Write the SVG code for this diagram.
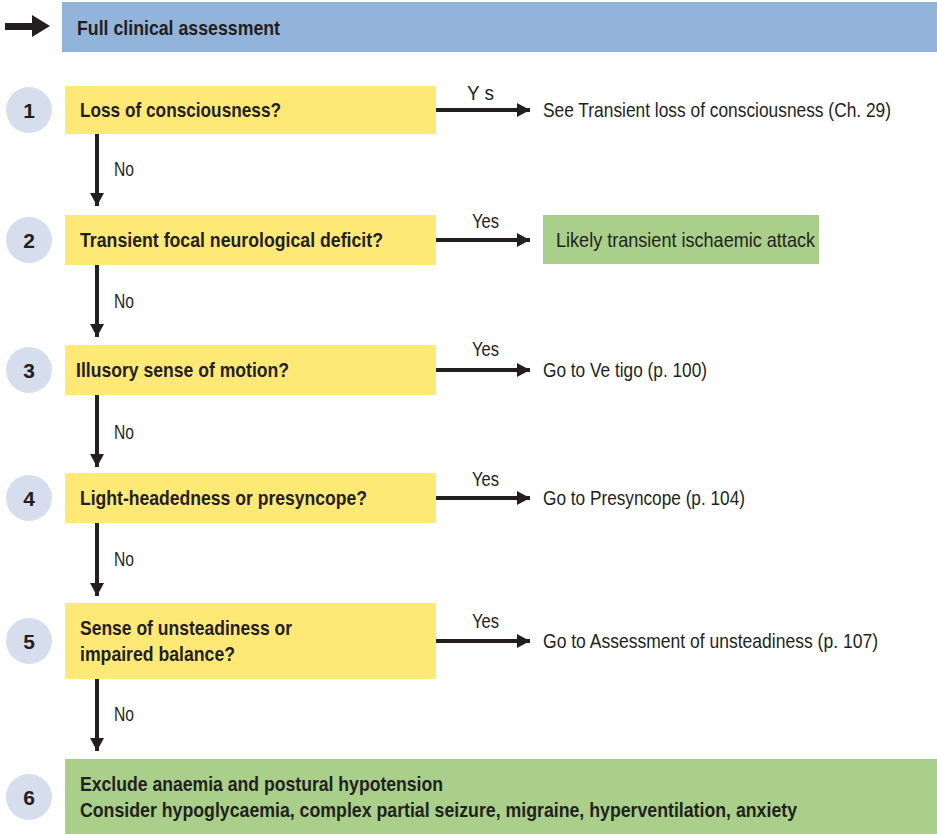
<svg xmlns="http://www.w3.org/2000/svg" width="937" height="834" viewBox="0 0 937 834">
<defs>
<style>
.b{font-family:"Liberation Sans",Arial,sans-serif;font-weight:bold;font-size:21px;fill:#231f20}
.r{font-family:"Liberation Sans",Arial,sans-serif;font-size:21px;fill:#231f20}
.n{font-family:"Liberation Sans",Arial,sans-serif;font-weight:bold;font-size:21px;fill:#231f20;text-anchor:middle}
.y{fill:#fee977}
.g{fill:#a9cf8a}
.c{fill:#d6dded}
.ln{stroke:#231f20;stroke-width:4;fill:none}
</style>
<marker id="ah" markerUnits="userSpaceOnUse" markerWidth="14" markerHeight="14" refX="13" refY="7" orient="auto">
<path d="M0,0 L13,7 L0,14 Z" fill="#231f20"/>
</marker>
</defs>
<g id="start">
<path d="M5,23 H32 V15 L50,26 L32,37 V30 H5 Z" fill="#231f20"/>
<rect x="62" y="2" width="875" height="50" fill="#92b4da"/>
<text class="b" x="77" y="35" textLength="203" lengthAdjust="spacingAndGlyphs">Full clinical assessment</text>
</g>
<g id="n1">
<circle class="c" cx="29" cy="110" r="23"/><text class="n" x="29" y="118">1</text>
<rect class="y" x="65" y="86" width="371" height="48"/>
<text class="b" x="80" y="117" textLength="201" lengthAdjust="spacingAndGlyphs">Loss of consciousness?</text>
</g>
<g id="r1"><text class="r" x="543" y="117" textLength="348" lengthAdjust="spacingAndGlyphs">See Transient loss of consciousness (Ch. 29)</text></g>
<g id="n2">
<circle class="c" cx="29" cy="240" r="23"/><text class="n" x="29" y="248">2</text>
<rect class="y" x="65" y="215" width="371" height="50"/>
<text class="b" x="80" y="247" textLength="303" lengthAdjust="spacingAndGlyphs">Transient focal neurological deficit?</text>
</g>
<g id="r2">
<rect class="g" x="543" y="215" width="276" height="49"/>
<text class="r" x="556" y="247" textLength="259" lengthAdjust="spacingAndGlyphs">Likely transient ischaemic attack</text>
</g>
<g id="n3">
<circle class="c" cx="29" cy="370" r="23"/><text class="n" x="29" y="378">3</text>
<rect class="y" x="65" y="345" width="371" height="50"/>
<text class="b" x="76" y="377" textLength="213" lengthAdjust="spacingAndGlyphs">Illusory sense of motion?</text>
</g>
<g id="r3"><text class="r" x="543" y="377" textLength="164" lengthAdjust="spacingAndGlyphs">Go to Ve tigo (p. 100)</text></g>
<g id="n4">
<circle class="c" cx="29" cy="498" r="23"/><text class="n" x="29" y="506">4</text>
<rect class="y" x="65" y="473" width="371" height="50"/>
<text class="b" x="80" y="505" textLength="287" lengthAdjust="spacingAndGlyphs">Light-headedness or presyncope?</text>
</g>
<g id="r4"><text class="r" x="543" y="505" textLength="202" lengthAdjust="spacingAndGlyphs">Go to Presyncope (p. 104)</text></g>
<g id="n5">
<circle class="c" cx="29" cy="641" r="23"/><text class="n" x="29" y="649">5</text>
<rect class="y" x="65" y="603" width="371" height="76"/>
<text class="b" x="80" y="635" textLength="212" lengthAdjust="spacingAndGlyphs">Sense of unsteadiness or</text>
<text class="b" x="80" y="661" textLength="155" lengthAdjust="spacingAndGlyphs">impaired balance?</text>
</g>
<g id="r5"><text class="r" x="543" y="648" textLength="335" lengthAdjust="spacingAndGlyphs">Go to Assessment of unsteadiness (p. 107)</text></g>
<g id="n6">
<circle class="c" cx="29" cy="797" r="23"/><text class="n" x="29" y="805">6</text>
<rect class="g" x="65" y="759" width="872" height="75"/>
<text class="b" x="80" y="791" textLength="363" lengthAdjust="spacingAndGlyphs">Exclude anaemia and postural hypotension</text>
<text class="b" x="80" y="817" textLength="717" lengthAdjust="spacingAndGlyphs">Consider hypoglycaemia, complex partial seizure, migraine, hyperventilation, anxiety</text>
</g>
<g id="connectors">
<path class="ln" d="M97,134 V206" marker-end="url(#ah)"/>
<path class="ln" d="M97,265 V337" marker-end="url(#ah)"/>
<path class="ln" d="M97,395 V467" marker-end="url(#ah)"/>
<path class="ln" d="M97,523 V596" marker-end="url(#ah)"/>
<path class="ln" d="M97,679 V751" marker-end="url(#ah)"/>
<path class="ln" d="M436,110 H530" marker-end="url(#ah)"/>
<path class="ln" d="M436,240 H530" marker-end="url(#ah)"/>
<path class="ln" d="M436,370 H530" marker-end="url(#ah)"/>
<path class="ln" d="M436,498 H530" marker-end="url(#ah)"/>
<path class="ln" d="M436,641 H530" marker-end="url(#ah)"/>
<g class="r">
<text x="467" y="100" textLength="27" lengthAdjust="spacingAndGlyphs">Y s</text>
<text x="472" y="228" textLength="27" lengthAdjust="spacingAndGlyphs">Yes</text>
<text x="472" y="356" textLength="27" lengthAdjust="spacingAndGlyphs">Yes</text>
<text x="472" y="486" textLength="27" lengthAdjust="spacingAndGlyphs">Yes</text>
<text x="472" y="628" textLength="27" lengthAdjust="spacingAndGlyphs">Yes</text>
<text x="114" y="176" textLength="20" lengthAdjust="spacingAndGlyphs">No</text>
<text x="114" y="308" textLength="20" lengthAdjust="spacingAndGlyphs">No</text>
<text x="114" y="439" textLength="20" lengthAdjust="spacingAndGlyphs">No</text>
<text x="114" y="566" textLength="20" lengthAdjust="spacingAndGlyphs">No</text>
<text x="114" y="721" textLength="20" lengthAdjust="spacingAndGlyphs">No</text>
</g>
</g>
</svg>
